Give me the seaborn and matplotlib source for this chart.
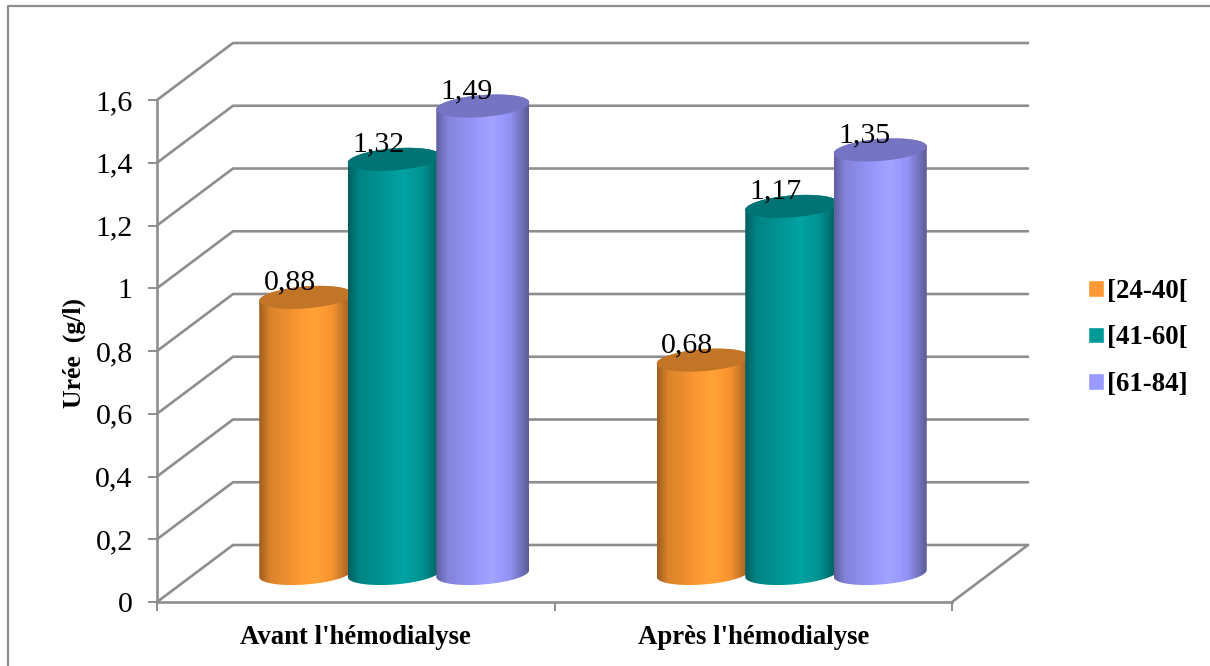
import numpy as np
import pandas as pd
import seaborn as sns
import matplotlib
matplotlib.use('Agg')
import matplotlib.pyplot as plt
from matplotlib.lines import Line2D
from matplotlib.path import Path
from matplotlib.patches import PathPatch
from matplotlib.transforms import IdentityTransform
from matplotlib.colors import to_rgb

# data
periodes = ["Avant l'hémodialyse", "Après l'hémodialyse"]
ages = ['[24-40[', '[41-60[', '[61-84]']
uree_24_40 = [0.88, 0.68]
uree_41_60 = [1.32, 1.17]
uree_61_84 = [1.49, 1.35]
couleurs = ['#FF9933', '#009999', '#9999FF']
y_ticks = [0, 0.2, 0.4, 0.6, 0.8, 1, 1.2, 1.4, 1.6]
y_labels = ['0', '0,2', '0,4', '0,6', '0,8', '1', '1,2', '1,4', '1,6']

df = pd.DataFrame({
    'periode': periodes * 3,
    'age': [a for a in ages for _ in periodes],
    'uree': uree_24_40 + uree_41_60 + uree_61_84,
})

sns.set_theme(style='white')
plt.rcParams['font.family'] = ['Liberation Serif', 'DejaVu Serif']

GRIS = '#8E8E8E'
W, H = 1210, 666
fig = plt.figure(figsize=(W / 100, H / 100), dpi=100)
ax = fig.add_axes([157 / W, (H - 602) / H, 795 / W, 502 / H])

sns.barplot(data=df, x='periode', y='uree', hue='age', palette=couleurs, saturation=1,
            hue_order=ages, order=periodes, width=0.668, gap=0, ax=ax)
ax.set_xlim(-0.5, 1.5)
ax.set_ylim(0, 1.6)

# decalage de la profondeur, en pixels
DX, DY = 76, 57
BX, BY = 38.5, 28.5
R = 46.5    # rayon du cylindre
B = 11      # demi hauteur de l'ellipse
K = 0.075   # inclinaison de l'ellipse


def ligne(xs, ys, lw=2.2, z=1):
    ax.add_line(Line2D(xs, ys, color=GRIS, lw=lw, transform=IdentityTransform(),
                       clip_on=False, zorder=z, solid_capstyle='round'))


# murs et grille
for v in y_ticks:
    x0, y0 = ax.transData.transform((-0.5, v))
    x1, y1 = ax.transData.transform((1.5, v))
    ligne([x0, x0 + DX, x1 + DX], [y0, y0 + DY, y1 + DY], lw=1.9)
x1, y1 = ax.transData.transform((1.5, 0))
ligne([x1, x1 + DX], [y1, y1 + DY], lw=1.9)


def ellipse(cx, cy, t):
    return cx + R * np.cos(t), cy + B * np.sin(t) + K * R * np.cos(t)


ombre_u = [0, 0.12, 0.3, 0.6, 0.8, 1]
ombre_f = [0.62, 0.86, 0.93, 1.07, 0.95, 0.6]
u = np.linspace(0, 1, 128)
f = np.interp(u, ombre_u, ombre_f)

for i, cont in enumerate(ax.containers):
    rgb = np.array(to_rgb(couleurs[i]))
    grad = np.clip(f[None, :, None] * rgb, 0, 1)
    for bar in cont:
        val = bar.get_height()
        xc = bar.get_x() + bar.get_width() / 2
        bar.set_visible(False)
        cx, y0 = ax.transData.transform((xc, 0))
        _, y1 = ax.transData.transform((xc, val))
        cx, y0, y1 = cx + BX, y0 + BY, y1 + BY

        # corps du cylindre
        t_bas = np.linspace(np.pi, 2 * np.pi, 60)
        t_haut = np.linspace(0, np.pi, 60)
        xb, yb = ellipse(cx, y0, t_bas)
        xh, yh = ellipse(cx, y1, t_haut)
        pts = np.column_stack([np.r_[xb, xh], np.r_[yb, yh]])
        pts = np.vstack([pts, pts[0]])
        corps = Path(pts, closed=True)
        im = ax.imshow(grad, extent=[cx - R, cx + R, y0 - 30, y1 + 30], aspect='auto',
                       transform=IdentityTransform(), zorder=3 + i * 0.1, interpolation='bilinear')
        im.set_clip_box(fig.bbox)
        im.set_clip_path(corps, IdentityTransform())

        # dessus
        tt = np.linspace(0, 2 * np.pi, 120)
        xe, ye = ellipse(cx, y1, tt)
        top = Path(np.column_stack([xe, ye]), closed=True)
        ax.add_patch(PathPatch(top, fc=tuple(rgb * 0.76), ec='none', transform=IdentityTransform(),
                               clip_on=False, zorder=3.01 + i * 0.1))

        # valeur
        ax.text(cx - 16, y1 + 15, f'{val:.2f}'.replace('.', ','), ha='center', va='center',
                fontsize=21.5, color='black', transform=IdentityTransform(), zorder=6, clip_on=False)

ax.set_xlim(-0.5, 1.5)
ax.set_ylim(0, 1.6)

# axes
sns.despine(ax=ax, top=True, right=True)
for s in ['left', 'bottom']:
    ax.spines[s].set_color(GRIS)
    ax.spines[s].set_linewidth(1.9)
    ax.spines[s].set_zorder(2)
ax.set_yticks(y_ticks)
ax.set_yticklabels(y_labels, fontsize=21.5, color='black')
ax.set_xticks([-0.5, 0.5, 1.5], minor=False)
ax.set_xticklabels([])
ax.set_xticks([0, 1], minor=True)
ax.set_xticklabels(periodes, minor=True, fontsize=19.3, fontweight='bold', color='black')
ax.tick_params(axis='y', left=True, length=6.5, width=1.4, color=GRIS, pad=11)
ax.tick_params(axis='x', which='major', bottom=True, length=6.5, width=1.4, color=GRIS)
ax.tick_params(axis='x', which='minor', bottom=False, pad=12.5)
ax.set_xlabel('')
ax.set_ylabel('Urée  (g/l)', fontsize=18.5, fontweight='bold', color='black')
ax.yaxis.set_label_coords((86 - 157) / 795, (602 - 353) / 502)
ax.patch.set_alpha(0)

# legende
sns.move_legend(ax, loc='center left', bbox_to_anchor=(1088 / W, (H - 338) / H),
                bbox_transform=fig.transFigure, frameon=False, title=None,
                prop={'size': 19.4, 'weight': 'bold'}, handlelength=0.58, handleheight=0.58,
                handletextpad=0.13, labelspacing=0.79, borderpad=0, borderaxespad=0,
                labelcolor='black')

# cadre du haut et de gauche
fig.add_artist(Line2D([8 / W, 8 / W, 1], [0, 1 - 6 / H, 1 - 6 / H], color=GRIS, lw=1.6,
                      transform=fig.transFigure))

fig.savefig('out.png', dpi=100)
